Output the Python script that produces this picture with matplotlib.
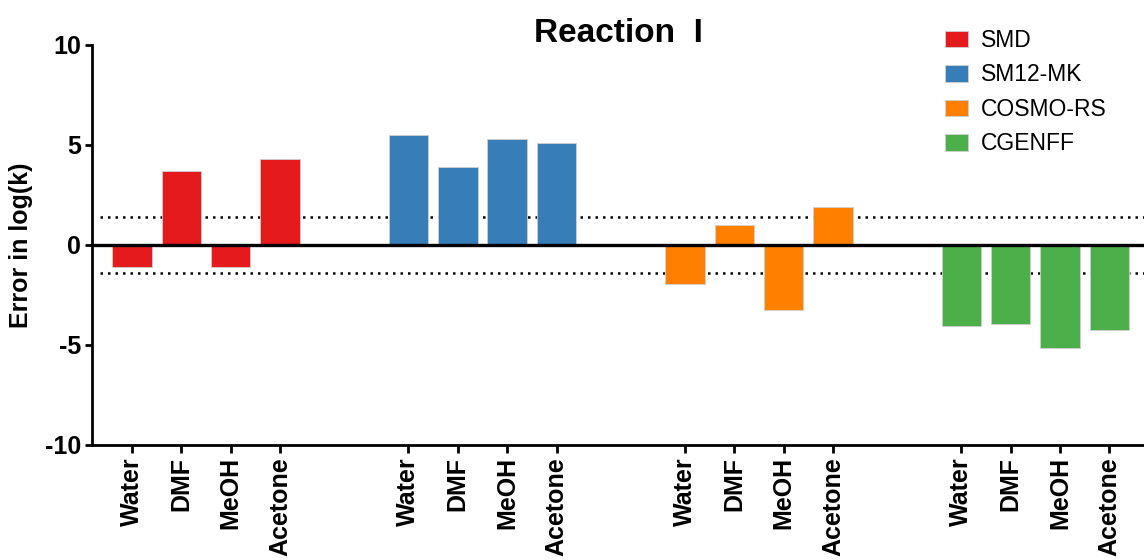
import numpy as np
import matplotlib
matplotlib.use("Agg")
import matplotlib.pyplot as plt

plt.rcParams['font.family'] = ['Liberation Sans', 'DejaVu Sans']

# errors in log(k) for each solvation model and solvent
solvents = ['Water', 'DMF', 'MeOH', 'Acetone']
models = ['SMD', 'SM12-MK', 'COSMO-RS', 'CGENFF']
smd = [-1.1, 3.7, -1.1, 4.3]
sm12 = [5.5, 3.9, 5.3, 5.1]
cosmo = [-1.95, 1.0, -3.25, 1.88]
cgenff = [-4.07, -3.97, -5.15, -4.25]
colors = ['#e41a1c', '#377eb8', '#ff7f00', '#4daf4a']
threshold = 1.4

fig = plt.figure(figsize=(11.44, 5.6), dpi=100)
ax = fig.add_axes([92 / 1144, 115.5 / 560, 1 - 92 / 1144, 399.5 / 560])

group_step = 5.6
ticks = []
labels = []
for g, (name, vals) in enumerate(zip(models, [smd, sm12, cosmo, cgenff])):
    x = g * group_step + np.arange(len(vals))
    ax.bar(x, vals, width=0.8, color=colors[g], edgecolor='#d0d0d0',
           linewidth=0.6, label=name, zorder=3)
    ticks.extend(x)
    labels.extend(solvents)

# zero line and +/- threshold
ax.axhline(0, color='black', lw=2.4, zorder=4)
for t in (threshold, -threshold):
    ax.axhline(t, xmin=0.008, color='black', lw=1.8,
               linestyle=(0, (1, 2)), zorder=2)

ax.set_xlim(-0.81, 20.5)
ax.set_ylim(-10, 10)
ax.set_yticks([-10, -5, 0, 5, 10])
ax.set_yticklabels(['-10', '-5', '0', '5', '10'])
ax.set_xticks(ticks)
ax.set_xticklabels(labels, rotation=90, va='top', ha='center')

for lab in ax.get_xticklabels() + ax.get_yticklabels():
    lab.set_fontsize(18)
    lab.set_fontweight('bold')

ax.tick_params(axis='y', length=5, width=2, pad=3)
ax.tick_params(axis='x', length=6, width=2, pad=3)
for side in ('top', 'right'):
    ax.spines[side].set_visible(False)
for side in ('left', 'bottom'):
    ax.spines[side].set_linewidth(2)

ax.set_ylabel('Error in log(k)', fontsize=18, fontweight='bold')
ax.yaxis.set_label_coords(-0.056, 0.5)
ax.set_title('Reaction  I', fontsize=24, fontweight='bold', y=1.0075, pad=0)

leg = fig.legend(loc='upper left', bbox_to_anchor=(945 / 1144, 1 - 29 / 560),
                 frameon=False, fontsize=16.5, handlelength=1.0,
                 handleheight=0.74, handletextpad=0.55, labelspacing=0.5,
                 borderpad=0, borderaxespad=0)

fig.savefig('out.png', dpi=100)
